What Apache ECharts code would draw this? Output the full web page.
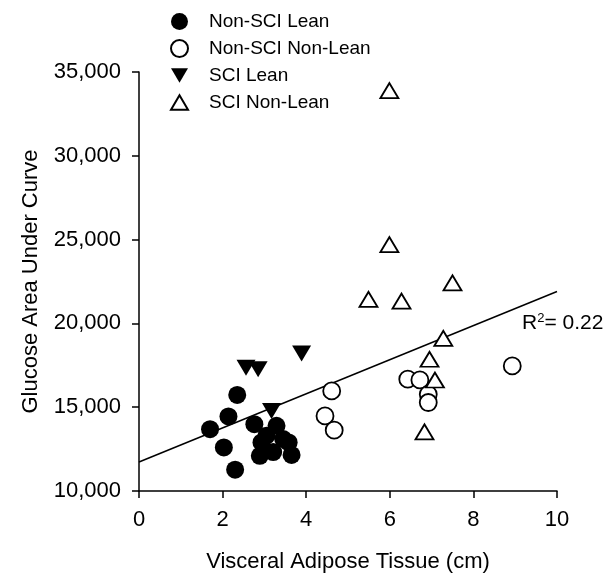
<!DOCTYPE html>
<html>
<head>
<meta charset="utf-8">
<script src="https://cdn.jsdelivr.net/npm/echarts@6/dist/echarts.min.js"></script>
<style>
html,body{margin:0;padding:0;background:#fff;}
#chart{width:611px;height:578px;}
</style>
</head>
<body>
<div id="chart"></div>
<script>
// data: [visceral adipose (cm), glucose AUC]
var nonSciLean = [
	[1.70,13690],[2.03,12600],[2.14,14450],[2.35,15730],[2.30,11270],
	[2.76,13990],[3.29,13890],[2.93,12900],[3.45,13100],[3.58,12900],
	[2.89,12100],[3.21,12320],[3.65,12150],[3.05,13300]
];
var nonSciNonLean = [
	[4.61,15970],[4.45,14480],[4.67,13630],[6.43,16670],
	[6.72,16630],[6.92,15770],[6.92,15280],[8.93,17460]
];
var sciLean = [
	[2.56,17360],[2.85,17260],[3.89,18210],[3.17,14780]
];
var sciNonLean = [
	[5.49,21430],[6.28,21330],[7.50,22420],[7.28,19110],[6.95,17860],
	[7.08,16620],[6.83,13530],[5.99,33890],[5.99,24700]
];
var fitLine = [[0,11730],[10,21900]];
var xTicks = {min:0, max:10, step:2};
var yTicks = {min:10000, max:35000, step:5000};

var downTri = 'path://M0,0 L20,0 L10,17 Z';
var upTri = 'path://M10,0 L20,17 L0,17 Z';

var myChart = echarts.init(document.getElementById('chart'));
var font = 'Liberation Sans, Arial, sans-serif';
var option = {
	animation:false,
	legend: {
		orient:'vertical',
		left:165,
		top:7,
		itemWidth:17,
		itemHeight:17,
		itemGap:8,
		textStyle:{fontFamily:font, fontSize:19, color:'#000', padding:[0,0,0,16]},
		data:['Non-SCI Lean','Non-SCI Non-Lean','SCI Lean','SCI Non-Lean']
	},
	grid: {left:139, right:54, top:72, bottom:86},
	xAxis: {
		type:'value',
		min:xTicks.min, max:xTicks.max, interval:xTicks.step,
		name:'Visceral Adipose Tissue (cm)',
		nameLocation:'middle', nameGap:60,
		nameTextStyle:{fontFamily:font, fontSize:22, color:'#000'},
		axisLine:{lineStyle:{color:'#000', width:1.5}},
		axisTick:{length:7, lineStyle:{color:'#000', width:1.5}},
		axisLabel:{fontFamily:font, fontSize:22, color:'#000', margin:18},
		splitLine:{show:false}
	},
	yAxis: {
		type:'value',
		min:yTicks.min, max:yTicks.max, interval:yTicks.step,
		name:'Glucose Area Under Curve',
		nameLocation:'middle', nameGap:97,
		nameTextStyle:{fontFamily:font, fontSize:22, color:'#000'},
		axisLine:{show:true, lineStyle:{color:'#000', width:1.5}},
		axisTick:{show:true, length:7, lineStyle:{color:'#000', width:1.5}},
		axisLabel:{fontFamily:font, fontSize:22, color:'#000', margin:18},
		splitLine:{show:false}
	},
	graphic: [{
		type:'text',
		left:522, top:312,
		style:{
			text:'R{sup|2}= 0.22',
			font:'21px ' + font,
			fill:'#000',
			rich:{sup:{fontSize:13, fontFamily:font, verticalAlign:'top', padding:[0,0,9,0]}}
		}
	}],
	series: [
		{
			name:'fit', type:'line', data:fitLine, symbol:'none',
			lineStyle:{color:'#000', width:1.5}, z:1, silent:true
		},
		{
			name:'Non-SCI Lean', type:'scatter', data:nonSciLean,
			symbol:'circle', symbolSize:18,
			itemStyle:{color:'#000', opacity:1}
		},
		{
			name:'Non-SCI Non-Lean', type:'scatter', data:nonSciNonLean,
			symbol:'circle', symbolSize:17,
			itemStyle:{color:'#fff', borderColor:'#000', borderWidth:1.8, opacity:1}
		},
		{
			name:'SCI Lean', type:'scatter', data:sciLean,
			symbol:downTri, symbolSize:[19,16],
			itemStyle:{color:'#000', opacity:1}
		},
		{
			name:'SCI Non-Lean', type:'scatter', data:sciNonLean,
			symbol:upTri, symbolSize:[18,15],
			itemStyle:{color:'#fff', borderColor:'#000', borderWidth:1.8, opacity:1}
		}
	]
};
myChart.setOption(option);
</script>
</body>
</html>
